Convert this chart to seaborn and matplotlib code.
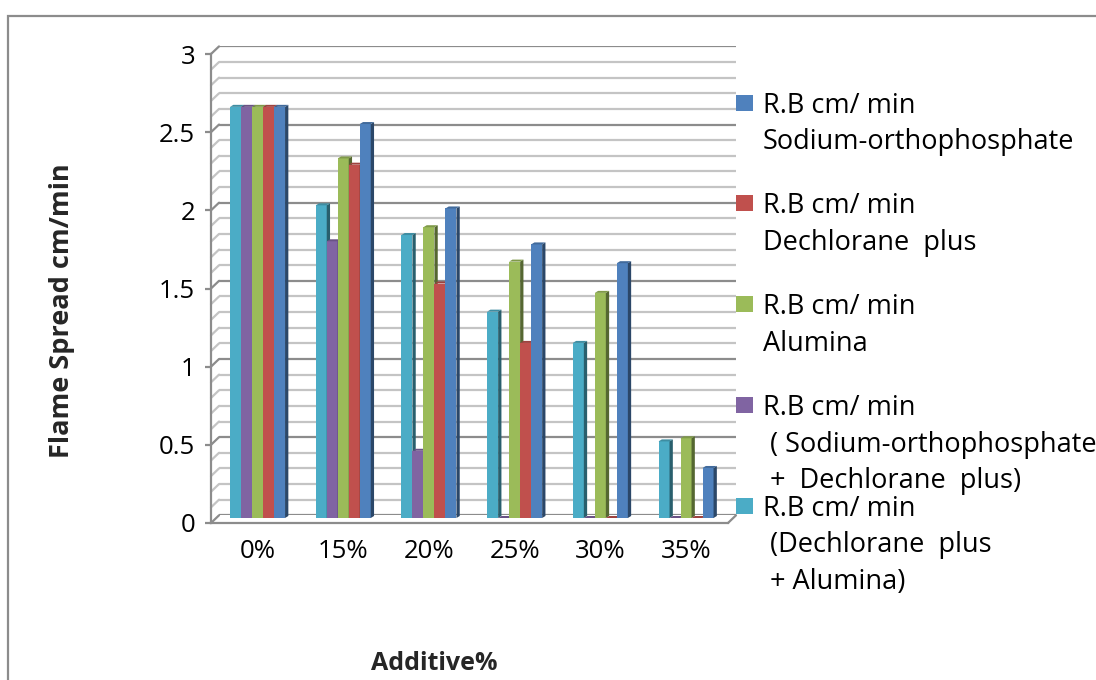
import numpy as np
import pandas as pd
import matplotlib
matplotlib.use("Agg")
import matplotlib.pyplot as plt
import matplotlib.colors as mcolors
from matplotlib.patches import Polygon, Rectangle
from matplotlib.lines import Line2D
from matplotlib.transforms import IdentityTransform
import seaborn as sns

# ---- data -------------------------------------------------------------
additive = ["0%", "15%", "20%", "25%", "30%", "35%"]

sodium_orthophosphate = [2.63, 2.52, 1.98, 1.75, 1.63, 0.32]
dechlorane_plus = [2.63, 2.26, 1.50, 1.12, 0.0, 0.0]
alumina = [2.63, 2.30, 1.86, 1.64, 1.44, 0.51]
so_plus_dp = [2.63, 1.77, 0.43, 0.0, 0.0, 0.0]
dp_plus_alumina = [2.63, 2.00, 1.81, 1.32, 1.12, 0.49]

series_names = [
    "R.B cm/ min\nSodium-orthophosphate",
    "R.B cm/ min\nDechlorane  plus",
    "R.B cm/ min\nAlumina",
    "R.B cm/ min\n ( Sodium-orthophosphate\n +  Dechlorane  plus)",
    "R.B cm/ min\n (Dechlorane  plus\n + Alumina)",
]
series_values = [sodium_orthophosphate, dechlorane_plus, alumina,
                 so_plus_dp, dp_plus_alumina]
series_colors = ["#4F81BD", "#C0504D", "#9BBB59", "#8064A2", "#4BACC6"]

y_ticks = [0, 0.5, 1, 1.5, 2, 2.5, 3]
y_tick_labels = ["0", "0.5", "1", "1.5", "2", "2.5", "3"]

df = pd.DataFrame(
    [(cat, name, v) for name, vals in zip(series_names, series_values)
     for cat, v in zip(additive, vals)],
    columns=["Additive", "series", "value"],
)

# ---- style ------------------------------------------------------------
sns.set_theme(style="white")
plt.rcParams["font.family"] = ["Open Sans", "DejaVu Sans"]
FS_TICK = 18.5
FS_LEG = 19.5
FS_TITLE = 18.5
GRID_DARK = "#8c8c8c"
GRID_LIGHT = "#c4c4c4"

W, H = 1096, 680
fig = plt.figure(figsize=(W / 100, H / 100), dpi=100)


def px_rect(left, top, right, bottom):
    return [left / W, 1 - bottom / H, (right - left) / W, (bottom - top) / H]


# outer chart border
fig.add_artist(Rectangle((8 / W, -0.1), 1.2, 1.1 - 16 / H,
                         transform=fig.transFigure, fill=False,
                         edgecolor=GRID_DARK, linewidth=1.6))

# back wall with gridlines, bar plane, and front axis frame
ax_back = fig.add_axes(px_rect(219, 46.4, 736, 515.3), zorder=0)
ax = fig.add_axes(px_rect(211, 49, 736, 518), zorder=1)
ax_front = fig.add_axes(px_rect(211, 54, 728, 523), zorder=2)

for a in (ax_back, ax, ax_front):
    a.set_ylim(0, 3)
    a.patch.set_alpha(0)
    for s in a.spines.values():
        s.set_visible(False)

# back wall gridlines
ax_back.set_xticks([])
ax_back.set_yticks(y_ticks)
ax_back.set_yticks(np.round(np.arange(0, 3.01, 0.1), 1), minor=True)
ax_back.tick_params(axis="y", which="both", length=0, labelleft=False)
ax_back.grid(True, axis="y", which="major", color=GRID_DARK, linewidth=1.6)
ax_back.grid(True, axis="y", which="minor", color=GRID_LIGHT, linewidth=1.6)

# bars
hue_order = series_names[::-1]
palette = dict(zip(series_names, series_colors))
sns.barplot(data=df, x="Additive", y="value", hue="series",
            hue_order=hue_order, palette=palette, order=additive,
            width=0.642, saturation=1, errorbar=None, legend=False, ax=ax)
ax.set_xlim(-0.543, 5.583)
ax.set_ylim(0, 3)
ax.set_yticks([])
ax.set_xlabel("")
ax.set_ylabel("")
ax.tick_params(axis="x", length=0, pad=15, labelsize=FS_TICK,
               labelcolor="black")

# depth faces of each column
T = ax.transData
inv = T.inverted()
depth = np.array([3.3, 2.0])
for k, (name, cont) in enumerate(zip(hue_order, ax.containers)):
    base = np.array(mcolors.to_rgb(palette[name]))
    side_c = base * 0.55
    top_c = base * 0.82
    for rect in cont:
        rect.set_zorder(3 + 2 * k)
        rect.set_linewidth(0)
        x0, w, h = rect.get_x(), rect.get_width(), rect.get_height()
        p10 = T.transform((x0 + w, 0))
        p11 = T.transform((x0 + w, h))
        p01 = T.transform((x0, h))
        side = inv.transform([p10, p10 + depth, p11 + depth, p11])
        top = inv.transform([p01, p11, p11 + depth, p01 + depth])
        ax.add_patch(Polygon(side, closed=True, facecolor=side_c,
                             linewidth=0, zorder=4 + 2 * k))
        ax.add_patch(Polygon(top, closed=True, facecolor=top_c,
                             linewidth=0, zorder=4 + 2 * k))

# front axis with value ticks
ax_front.set_xticks([])
ax_front.set_yticks(y_ticks)
ax_front.set_yticklabels(y_tick_labels)
ax_front.spines["left"].set_visible(True)
ax_front.spines["bottom"].set_visible(True)
for s in ("left", "bottom"):
    ax_front.spines[s].set_color(GRID_DARK)
    ax_front.spines[s].set_linewidth(1.6)
ax_front.tick_params(axis="y", length=4.5, width=1.6, color=GRID_DARK,
                     pad=7, labelsize=FS_TICK, labelcolor="black", left=True)

# slanted side-wall lines joining the front axis to the back wall
for v in np.round(np.arange(0, 3.01, 0.1), 1):
    pf = ax_front.transData.transform((ax_front.get_xlim()[0], v))
    pb = ax_back.transData.transform((ax_back.get_xlim()[0], v))
    major = abs(v * 2 - round(v * 2)) < 1e-6
    fig.add_artist(Line2D([pf[0], pb[0]], [pf[1], pb[1]],
                          transform=IdentityTransform(),
                          color=GRID_DARK if major else GRID_LIGHT,
                          linewidth=1.6))
# right edge of the floor
pf = ax_front.transData.transform((ax_front.get_xlim()[1], 0))
pb = ax_back.transData.transform((ax_back.get_xlim()[1], 0))
fig.add_artist(Line2D([pf[0], pb[0]], [pf[1], pb[1]],
                      transform=IdentityTransform(), color=GRID_DARK,
                      linewidth=1.6))

# axis titles
fig.text(434 / W, 1 - 663 / H, "Additive%", ha="center", va="center",
         fontsize=FS_TITLE - 0.5, fontweight="bold")
fig.text(62 / W, 1 - 311 / H, "Flame Spread cm/min", ha="center",
         va="center", rotation=90, fontsize=FS_TITLE + 1, fontweight="bold")

# legend
for i, (name, color) in enumerate(zip(series_names, series_colors)):
    y0 = 112.7 + 100.7 * i
    fig.add_artist(Rectangle((736 / W, 1 - (y0 - 2) / H), 17 / W, 16 / H,
                             transform=fig.transFigure, facecolor=color,
                             edgecolor="none"))
    for j, line in enumerate(name.split("\n")):
        fig.text(763 / W, 1 - (y0 + 36.8 * j) / H, line, ha="left",
                 va="baseline", fontsize=FS_LEG, color="black")

fig.savefig("out.png", dpi=100)
